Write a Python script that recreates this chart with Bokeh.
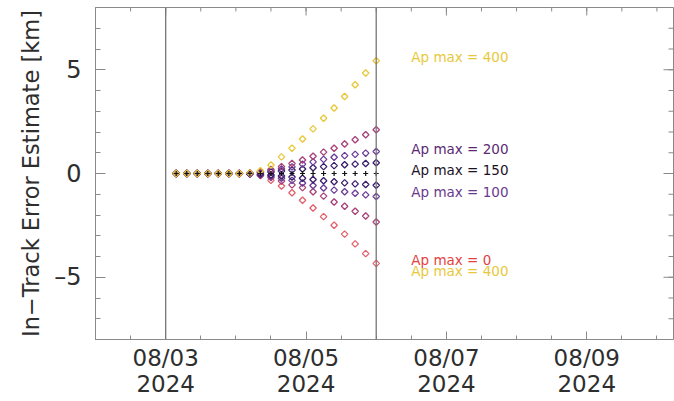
import math
import pandas as pd
from bokeh.plotting import figure
from bokeh.models import (Range1d, FixedTicker, Span, ColumnDataSource, DatetimeTickFormatter)
from bokeh.embed import file_html
from bokeh.resources import INLINE
from bokeh.core.properties import value

# Prediction epochs (every 3.6 h)
times = pd.to_datetime([
    "2024-08-03 03:36", "2024-08-03 07:12", "2024-08-03 10:48", "2024-08-03 14:24",
    "2024-08-03 18:00", "2024-08-03 21:36", "2024-08-04 01:12", "2024-08-04 04:48",
    "2024-08-04 08:24", "2024-08-04 12:00", "2024-08-04 15:36", "2024-08-04 19:12",
    "2024-08-04 22:48", "2024-08-05 02:24", "2024-08-05 06:00", "2024-08-05 09:36",
    "2024-08-05 13:12", "2024-08-05 16:48", "2024-08-05 20:24", "2024-08-06 00:00",
])

# In-track error estimates [km] for each scenario
err_up_400 = [0, 0, 0, 0, 0, 0, 0, 0.03, 0.13, 0.41, 0.80, 1.22, 1.66, 2.15, 2.66, 3.16, 3.71, 4.28, 4.84, 5.43]
err_up_200 = [0, 0, 0, 0, 0, 0, 0, 0.02, 0.10, 0.20, 0.33, 0.48, 0.65, 0.83, 1.03, 1.22, 1.42, 1.63, 1.87, 2.11]
err_up_100 = [0, 0, 0, 0, 0, 0, 0, 0.01, 0.06, 0.13, 0.22, 0.32, 0.45, 0.56, 0.68, 0.78, 0.86, 0.92, 0.98, 1.06]
err_up_50 = [0, 0, 0, 0, 0, 0, 0, 0.01, 0.03, 0.07, 0.12, 0.17, 0.22, 0.28, 0.33, 0.38, 0.42, 0.45, 0.48, 0.52]
err_nominal = [0] * 20
err_lo_50 = [0, 0, 0, 0, 0, 0, 0, -0.01, -0.03, -0.07, -0.12, -0.17, -0.23, -0.29, -0.35, -0.40, -0.45, -0.50, -0.53, -0.57]
err_lo_100 = [0, 0, 0, 0, 0, 0, 0, -0.01, -0.06, -0.13, -0.23, -0.33, -0.46, -0.58, -0.70, -0.80, -0.88, -0.95, -1.03, -1.11]
err_lo_200 = [0, 0, 0, 0, 0, 0, 0, -0.01, -0.09, -0.20, -0.36, -0.55, -0.68, -0.88, -1.09, -1.37, -1.58, -1.82, -2.05, -2.34]
err_lo_0 = [0, 0, 0, 0, 0, 0, 0, -0.02, -0.10, -0.33, -0.60, -0.93, -1.29, -1.66, -2.08, -2.49, -2.92, -3.39, -3.86, -4.33]

series = [
    (err_lo_0, "#e2606c"),
    (err_lo_200, "#a8427a"),
    (err_lo_100, "#6b3d98"),
    (err_lo_50, "#3a1f6e"),
    (err_up_50, "#3a1f6e"),
    (err_up_100, "#6b3d98"),
    (err_up_200, "#a8427a"),
    (err_up_400, "#e8c83a"),
]

# Scenario annotations
label_x = pd.to_datetime(["2024-08-06 12:00"] * 6)
label_y = [5.62, 1.20, 0.17, -0.90, -4.17, -4.70]
label_text = ["Ap max = 400", "Ap max = 200", "Ap max = 150", "Ap max = 100", "Ap max = 0", "Ap max = 400"]
label_color = ["#e8c83a", "#5a2a74", "#1c1226", "#6a3a8c", "#e2423e", "#e8c83a"]

# Axis ticks
major_dates = pd.to_datetime(["2024-08-03", "2024-08-05", "2024-08-07", "2024-08-09"])
minor_dates = pd.date_range("2024-08-02", "2024-08-10", freq="12h")
marker_dates = pd.to_datetime(["2024-08-03", "2024-08-06"])
x_start, x_end = pd.Timestamp("2024-08-02 00:00"), pd.Timestamp("2024-08-10 05:40")
y_start, y_end = -8, 8
y_major = [-5, 0, 5]
y_minor = list(range(-8, 9))

FONT = "DejaVu Sans"
AXIS_COLOR = "#8a8a8a"
TEXT_COLOR = "#2e2e2e"
BORDER_L, BORDER_R, BORDER_T, BORDER_B = 95, 1, 7, 62
W, H = 674, 401
FRAME_W = W - BORDER_L - BORDER_R
FRAME_H = H - BORDER_T - BORDER_B


def ms(ts):
    return [t.value / 1e6 for t in ts]


p = figure(width=W, height=H, x_axis_type="datetime",
           x_range=Range1d(x_start, x_end), y_range=Range1d(y_start, y_end),
           output_backend="svg", toolbar_location=None,
           min_border_left=BORDER_L, min_border_right=BORDER_R,
           min_border_top=BORDER_T, min_border_bottom=BORDER_B)
p.background_fill_color = "white"
p.border_fill_color = "white"
p.outline_line_color = AXIS_COLOR
p.xgrid.visible = False
p.ygrid.visible = False

xticker = FixedTicker(ticks=ms(major_dates), minor_ticks=ms(minor_dates))
yticker = FixedTicker(ticks=y_major, minor_ticks=y_minor)
fmt = "%m/%d\n%Y"
xfmt = DatetimeTickFormatter(days=fmt, months=fmt, hours=fmt, years=fmt,
                             minutes=fmt, hourmin=fmt)


def style_axis(ax, major_len, minor_len):
    ax.axis_line_color = AXIS_COLOR
    ax.major_tick_line_color = AXIS_COLOR
    ax.minor_tick_line_color = AXIS_COLOR
    ax.major_tick_in = major_len
    ax.major_tick_out = 0
    ax.minor_tick_in = minor_len
    ax.minor_tick_out = 0
    ax.major_label_text_font = FONT
    ax.major_label_text_color = TEXT_COLOR


xa = p.xaxis[0]
xa.ticker = xticker
xa.formatter = xfmt
style_axis(xa, 8, 4)
xa.major_label_text_font_size = "23px"
xa.major_label_text_line_height = 1.0
xa.major_label_standoff = 5

ya = p.yaxis[0]
ya.ticker = yticker
style_axis(ya, 10, 5)
ya.major_label_text_font_size = "24px"
ya.major_label_standoff = 14
ya.major_label_overrides = {-5: "\u20135"}
ya.axis_label = "In\u2212Track Error Estimate [km]"
ya.axis_label_text_font = FONT
ya.axis_label_text_font_style = "normal"
ya.axis_label_text_font_size = "22.5px"
ya.axis_label_text_color = TEXT_COLOR
ya.axis_label_standoff = 7

# Mirrored inward ticks on the top and right frame edges
days_per_px = (x_end - x_start).total_seconds() / 86400 / FRAME_W
units_per_px = (y_end - y_start) / FRAME_H
x_end_ms = x_end.value / 1e6
day_ms = 86400000.0

top_x = ms(major_dates) + ms(minor_dates)
top_len = [8] * len(major_dates) + [4] * len(minor_dates)
p.segment(x0=top_x, x1=top_x, y0=[y_end] * len(top_x),
          y1=[y_end - L * units_per_px for L in top_len],
          line_color=AXIS_COLOR, line_width=1)

right_y = y_major + y_minor
right_len = [10] * len(y_major) + [5] * len(y_minor)
p.segment(x0=[x_end_ms] * len(right_y),
          x1=[x_end_ms - L * days_per_px * day_ms for L in right_len],
          y0=right_y, y1=right_y, line_color=AXIS_COLOR, line_width=1)

for d in ms(marker_dates):
    p.add_layout(Span(location=d, dimension="height", line_color="#767676", line_width=1.3))

# Open diamonds: squares turned by 45 degrees
for vals, color in series:
    p.scatter(x=times, y=vals, marker="square", angle=math.pi / 4, size=4.6,
              fill_color=None, line_color=color, line_width=1.3)
p.scatter(x=times, y=err_nominal, marker="cross", size=5, line_color="#111111", line_width=1.2)

labels = ColumnDataSource(dict(x=label_x, y=label_y, text=label_text, color=label_color))
p.text(x="x", y="y", text="text", text_color="color", source=labels,
       text_font=value(FONT), text_font_size="13.5px", text_baseline="middle", text_align="left")

open("out.html", "w").write(file_html(p, INLINE))
